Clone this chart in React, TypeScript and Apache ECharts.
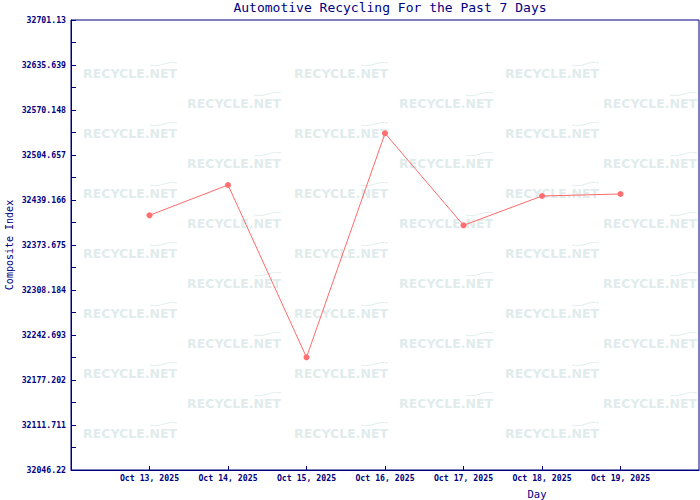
import React, { useEffect, useRef } from "react";
import * as echarts from "echarts";

const days = ["Oct 13, 2025", "Oct 14, 2025", "Oct 15, 2025", "Oct 16, 2025", "Oct 17, 2025", "Oct 18, 2025", "Oct 19, 2025"];
const dayNumbers = [13, 14, 15, 16, 17, 18, 19];
const values = [32416.9, 32461.0, 32210.2, 32536.2, 32402.3, 32445.0, 32447.9];
const yTickLabels = ["32046.22", "32111.711", "32177.202", "32242.693", "32308.184", "32373.675", "32439.166", "32504.657", "32570.148", "32635.639", "32701.13"];
const yMin = 32046.22;
const yMax = 32701.13;
const xMin = 12;
const xMax = 20;

const NAVY = "#000080";
const MONO = "'DejaVu Sans Mono', monospace";

function watermarks() {
  const els: any[] = [];
  const rowsA = [73, 133, 193, 253, 313, 373, 433];
  const rowsB = [103, 163, 223, 283, 343, 403];
  const colsA = [130, 341, 552];
  const colsB = [234, 446, 650];
  const add = (cx: number, cy: number) => {
    els.push({
      type: "text",
      x: cx,
      y: cy,
      silent: true,
      z: 0,
      style: {
        text: "RECYCLE.NET",
        fill: "#dfeceb",
        font: "bold 12.5px 'DejaVu Sans', sans-serif",
        textAlign: "center",
        textVerticalAlign: "middle",
      },
    });
    els.push({
      type: "bezierCurve",
      silent: true,
      z: 0,
      shape: { x1: cx + 20, y1: cy - 8, x2: cx + 47, y2: cy - 10, cpx1: cx + 30, cpy1: cy - 5, cpx2: cx + 38, cpy2: cy - 13 },
      style: { stroke: "#e4eeee", lineWidth: 1, fill: null },
    });
  };
  rowsA.forEach((y) => colsA.forEach((x) => add(x, y)));
  rowsB.forEach((y) => colsB.forEach((x) => add(x, y)));
  return els;
}

export default function App() {
  const ref = useRef<HTMLDivElement>(null);
  useEffect(() => {
    if (!ref.current) return;
    const chart = echarts.init(ref.current, null, { renderer: "svg" });
    const step = (yMax - yMin) / (yTickLabels.length - 1);
    chart.setOption({
      animation: false,
      backgroundColor: "#ffffff",
      title: {
        text: "Automotive Recycling For the Past 7 Days",
        left: 385,
        textAlign: "center",
        top: -4,
        textStyle: { color: NAVY, fontFamily: MONO, fontSize: 13, fontWeight: "normal" },
      },
      grid: {
        left: 71,
        right: 1,
        top: 20,
        bottom: 30,
        outerBoundsMode: "none",
        containLabel: false,
        show: true,
        borderColor: NAVY,
        borderWidth: 1,
        backgroundColor: "transparent",
      },
      graphic: [
        ...watermarks(),
        {
          type: "text",
          x: 537,
          y: 494,
          silent: true,
          style: {
            text: "Day",
            fill: NAVY,
            font: "10.5px 'DejaVu Sans Mono', monospace",
            textAlign: "center",
            textVerticalAlign: "middle",
          },
        },
      ],
      xAxis: {
        type: "value",
        min: xMin,
        max: xMax,
        interval: 1,
        axisLine: { show: true, lineStyle: { color: NAVY, width: 1 } },
        axisTick: { show: true, inside: true, length: 4, lineStyle: { color: NAVY } },
        splitLine: { show: false },
        axisLabel: {
          margin: 4,
          color: NAVY,
          fontFamily: MONO,
          fontSize: 8.2,
          fontWeight: "bold",
          showMinLabel: false,
          showMaxLabel: false,
          formatter: (v: number) => {
            const i = dayNumbers.indexOf(Math.round(v));
            return i >= 0 ? days[i] : "";
          },
        },
      },
      yAxis: {
        type: "value",
        min: yMin,
        max: yMax,
        interval: step,
        name: "Composite Index",
        nameLocation: "middle",
        nameGap: 57,
        nameMoveOverlap: false,
        nameTextStyle: { color: NAVY, fontFamily: MONO, fontSize: 10 },
        axisLine: { show: true, lineStyle: { color: NAVY, width: 1 } },
        axisTick: { show: true, inside: true, length: 5, lineStyle: { color: NAVY } },
        minorTick: { show: true, splitNumber: 2, length: 5, lineStyle: { color: NAVY } },
        splitLine: { show: false },
        axisLabel: {
          margin: 5,
          color: NAVY,
          fontFamily: MONO,
          fontSize: 8.2,
          fontWeight: "bold",
          formatter: (v: number) => {
            const k = Math.round((v - yMin) / step);
            return yTickLabels[k] ?? "";
          },
        },
      },
      series: [
        {
          type: "line",
          data: dayNumbers.map((d, i) => [d, values[i]]),
          symbol: "circle",
          symbolSize: 6,
          z: 3,
          lineStyle: { color: "#ff6a6a", width: 1 },
          itemStyle: { color: "#ff6f6f" },
        },
      ],
    });
    return () => chart.dispose();
  }, []);
  return <div ref={ref} style={{ width: 700, height: 500, position: "absolute", left: 0, top: 0 }} />;
}
